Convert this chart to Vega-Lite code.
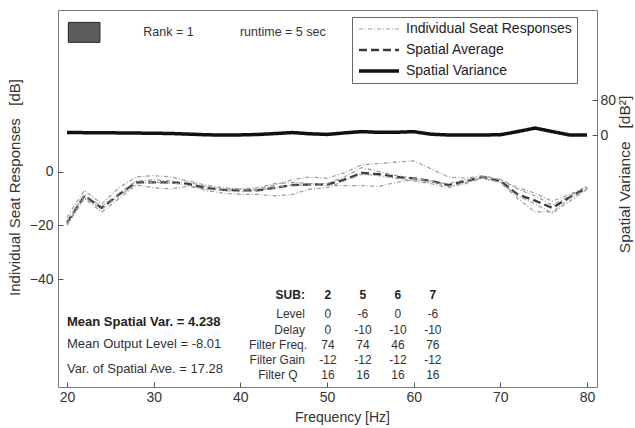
{
  "$schema": "https://vega.github.io/schema/vega-lite/v6.json",
  "width": 539,
  "height": 377,
  "autosize": {"type": "none"},
  "padding": {"left": 58, "top": 10, "right": 38, "bottom": 41},
  "background": "white",
  "config": {
    "view": {"stroke": "#7a7a7a", "strokeWidth": 1},
    "font": "Liberation Sans",
    "axis": {
      "grid": false, "domain": false,
      "labelFont": "Liberation Sans", "labelFontSize": 14, "labelColor": "#333333",
      "titleFont": "Liberation Sans", "titleFontSize": 13.5, "titleFontWeight": "normal", "titleColor": "#333333",
      "tickColor": "#555555", "tickSize": -5, "labelPadding": 10
    },
    "legend": {
      "orient": "none", "legendX": 294, "legendY": 7,
      "symbolType": "M-4,0H4", "symbolSize": 100, "symbolOffset": 15,
      "labelFont": "Liberation Sans", "labelFontSize": 14, "labelColor": "#222222", "labelLimit": 300,
      "labelOffset": 20, "padding": 5, "rowPadding": 7,
      "strokeColor": "#666666", "fillColor": "white"
    }
  },
  "datasets": {
    "curves": [
      {"freq":20,"level":-19,"series":"Spatial Average","sub":"avg"},
      {"freq":22,"level":-9,"series":"Spatial Average","sub":"avg"},
      {"freq":24,"level":-13.5,"series":"Spatial Average","sub":"avg"},
      {"freq":26,"level":-8.5,"series":"Spatial Average","sub":"avg"},
      {"freq":28,"level":-4,"series":"Spatial Average","sub":"avg"},
      {"freq":30,"level":-4,"series":"Spatial Average","sub":"avg"},
      {"freq":32,"level":-4,"series":"Spatial Average","sub":"avg"},
      {"freq":34,"level":-4.6,"series":"Spatial Average","sub":"avg"},
      {"freq":36,"level":-6,"series":"Spatial Average","sub":"avg"},
      {"freq":38,"level":-6.8,"series":"Spatial Average","sub":"avg"},
      {"freq":40,"level":-7,"series":"Spatial Average","sub":"avg"},
      {"freq":42,"level":-7,"series":"Spatial Average","sub":"avg"},
      {"freq":44,"level":-6,"series":"Spatial Average","sub":"avg"},
      {"freq":46,"level":-5,"series":"Spatial Average","sub":"avg"},
      {"freq":48,"level":-4.8,"series":"Spatial Average","sub":"avg"},
      {"freq":50,"level":-4.8,"series":"Spatial Average","sub":"avg"},
      {"freq":52,"level":-3,"series":"Spatial Average","sub":"avg"},
      {"freq":54,"level":-0.5,"series":"Spatial Average","sub":"avg"},
      {"freq":56,"level":-1,"series":"Spatial Average","sub":"avg"},
      {"freq":58,"level":-2,"series":"Spatial Average","sub":"avg"},
      {"freq":60,"level":-2.5,"series":"Spatial Average","sub":"avg"},
      {"freq":62,"level":-3.5,"series":"Spatial Average","sub":"avg"},
      {"freq":64,"level":-5,"series":"Spatial Average","sub":"avg"},
      {"freq":66,"level":-3.5,"series":"Spatial Average","sub":"avg"},
      {"freq":68,"level":-2,"series":"Spatial Average","sub":"avg"},
      {"freq":70,"level":-3.5,"series":"Spatial Average","sub":"avg"},
      {"freq":72,"level":-8.5,"series":"Spatial Average","sub":"avg"},
      {"freq":74,"level":-10.8,"series":"Spatial Average","sub":"avg"},
      {"freq":76,"level":-13.5,"series":"Spatial Average","sub":"avg"},
      {"freq":78,"level":-9.5,"series":"Spatial Average","sub":"avg"},
      {"freq":80,"level":-6,"series":"Spatial Average","sub":"avg"},

      {"freq":20,"level":-17,"series":"Individual Seat Responses","sub":"2"},
      {"freq":22,"level":-7,"series":"Individual Seat Responses","sub":"2"},
      {"freq":24,"level":-12,"series":"Individual Seat Responses","sub":"2"},
      {"freq":26,"level":-6,"series":"Individual Seat Responses","sub":"2"},
      {"freq":28,"level":-2,"series":"Individual Seat Responses","sub":"2"},
      {"freq":30,"level":-1.5,"series":"Individual Seat Responses","sub":"2"},
      {"freq":32,"level":-2,"series":"Individual Seat Responses","sub":"2"},
      {"freq":34,"level":-3.5,"series":"Individual Seat Responses","sub":"2"},
      {"freq":36,"level":-5,"series":"Individual Seat Responses","sub":"2"},
      {"freq":38,"level":-6,"series":"Individual Seat Responses","sub":"2"},
      {"freq":40,"level":-6.5,"series":"Individual Seat Responses","sub":"2"},
      {"freq":42,"level":-6.5,"series":"Individual Seat Responses","sub":"2"},
      {"freq":44,"level":-5,"series":"Individual Seat Responses","sub":"2"},
      {"freq":46,"level":-3,"series":"Individual Seat Responses","sub":"2"},
      {"freq":48,"level":-2,"series":"Individual Seat Responses","sub":"2"},
      {"freq":50,"level":-2.5,"series":"Individual Seat Responses","sub":"2"},
      {"freq":52,"level":-0.5,"series":"Individual Seat Responses","sub":"2"},
      {"freq":54,"level":2.5,"series":"Individual Seat Responses","sub":"2"},
      {"freq":56,"level":3,"series":"Individual Seat Responses","sub":"2"},
      {"freq":58,"level":3.5,"series":"Individual Seat Responses","sub":"2"},
      {"freq":60,"level":4,"series":"Individual Seat Responses","sub":"2"},
      {"freq":62,"level":1,"series":"Individual Seat Responses","sub":"2"},
      {"freq":64,"level":-2,"series":"Individual Seat Responses","sub":"2"},
      {"freq":66,"level":-2.5,"series":"Individual Seat Responses","sub":"2"},
      {"freq":68,"level":-1.5,"series":"Individual Seat Responses","sub":"2"},
      {"freq":70,"level":-3,"series":"Individual Seat Responses","sub":"2"},
      {"freq":72,"level":-6,"series":"Individual Seat Responses","sub":"2"},
      {"freq":74,"level":-8,"series":"Individual Seat Responses","sub":"2"},
      {"freq":76,"level":-11,"series":"Individual Seat Responses","sub":"2"},
      {"freq":78,"level":-8.5,"series":"Individual Seat Responses","sub":"2"},
      {"freq":80,"level":-5.5,"series":"Individual Seat Responses","sub":"2"},

      {"freq":20,"level":-20,"series":"Individual Seat Responses","sub":"5"},
      {"freq":22,"level":-10,"series":"Individual Seat Responses","sub":"5"},
      {"freq":24,"level":-15,"series":"Individual Seat Responses","sub":"5"},
      {"freq":26,"level":-10,"series":"Individual Seat Responses","sub":"5"},
      {"freq":28,"level":-5,"series":"Individual Seat Responses","sub":"5"},
      {"freq":30,"level":-6,"series":"Individual Seat Responses","sub":"5"},
      {"freq":32,"level":-6.4,"series":"Individual Seat Responses","sub":"5"},
      {"freq":34,"level":-5.5,"series":"Individual Seat Responses","sub":"5"},
      {"freq":36,"level":-6.5,"series":"Individual Seat Responses","sub":"5"},
      {"freq":38,"level":-7,"series":"Individual Seat Responses","sub":"5"},
      {"freq":40,"level":-7.5,"series":"Individual Seat Responses","sub":"5"},
      {"freq":42,"level":-7,"series":"Individual Seat Responses","sub":"5"},
      {"freq":44,"level":-6,"series":"Individual Seat Responses","sub":"5"},
      {"freq":46,"level":-5,"series":"Individual Seat Responses","sub":"5"},
      {"freq":48,"level":-5,"series":"Individual Seat Responses","sub":"5"},
      {"freq":50,"level":-5.2,"series":"Individual Seat Responses","sub":"5"},
      {"freq":52,"level":-5.2,"series":"Individual Seat Responses","sub":"5"},
      {"freq":54,"level":-5.2,"series":"Individual Seat Responses","sub":"5"},
      {"freq":56,"level":-5.5,"series":"Individual Seat Responses","sub":"5"},
      {"freq":58,"level":-4,"series":"Individual Seat Responses","sub":"5"},
      {"freq":60,"level":-3,"series":"Individual Seat Responses","sub":"5"},
      {"freq":62,"level":-4,"series":"Individual Seat Responses","sub":"5"},
      {"freq":64,"level":-4.5,"series":"Individual Seat Responses","sub":"5"},
      {"freq":66,"level":-3,"series":"Individual Seat Responses","sub":"5"},
      {"freq":68,"level":-2.5,"series":"Individual Seat Responses","sub":"5"},
      {"freq":70,"level":-4,"series":"Individual Seat Responses","sub":"5"},
      {"freq":72,"level":-10,"series":"Individual Seat Responses","sub":"5"},
      {"freq":74,"level":-15,"series":"Individual Seat Responses","sub":"5"},
      {"freq":76,"level":-15,"series":"Individual Seat Responses","sub":"5"},
      {"freq":78,"level":-10,"series":"Individual Seat Responses","sub":"5"},
      {"freq":80,"level":-6.5,"series":"Individual Seat Responses","sub":"5"},

      {"freq":20,"level":-19.5,"series":"Individual Seat Responses","sub":"6"},
      {"freq":22,"level":-9.5,"series":"Individual Seat Responses","sub":"6"},
      {"freq":24,"level":-14,"series":"Individual Seat Responses","sub":"6"},
      {"freq":26,"level":-9,"series":"Individual Seat Responses","sub":"6"},
      {"freq":28,"level":-4.5,"series":"Individual Seat Responses","sub":"6"},
      {"freq":30,"level":-4,"series":"Individual Seat Responses","sub":"6"},
      {"freq":32,"level":-4.2,"series":"Individual Seat Responses","sub":"6"},
      {"freq":34,"level":-5,"series":"Individual Seat Responses","sub":"6"},
      {"freq":36,"level":-7,"series":"Individual Seat Responses","sub":"6"},
      {"freq":38,"level":-8,"series":"Individual Seat Responses","sub":"6"},
      {"freq":40,"level":-8.5,"series":"Individual Seat Responses","sub":"6"},
      {"freq":42,"level":-8.5,"series":"Individual Seat Responses","sub":"6"},
      {"freq":44,"level":-9,"series":"Individual Seat Responses","sub":"6"},
      {"freq":46,"level":-8.5,"series":"Individual Seat Responses","sub":"6"},
      {"freq":48,"level":-6.5,"series":"Individual Seat Responses","sub":"6"},
      {"freq":50,"level":-6,"series":"Individual Seat Responses","sub":"6"},
      {"freq":52,"level":-3.5,"series":"Individual Seat Responses","sub":"6"},
      {"freq":54,"level":-1,"series":"Individual Seat Responses","sub":"6"},
      {"freq":56,"level":-1.5,"series":"Individual Seat Responses","sub":"6"},
      {"freq":58,"level":-2.5,"series":"Individual Seat Responses","sub":"6"},
      {"freq":60,"level":-3.5,"series":"Individual Seat Responses","sub":"6"},
      {"freq":62,"level":-4.5,"series":"Individual Seat Responses","sub":"6"},
      {"freq":64,"level":-6,"series":"Individual Seat Responses","sub":"6"},
      {"freq":66,"level":-4,"series":"Individual Seat Responses","sub":"6"},
      {"freq":68,"level":-2.5,"series":"Individual Seat Responses","sub":"6"},
      {"freq":70,"level":-4,"series":"Individual Seat Responses","sub":"6"},
      {"freq":72,"level":-9,"series":"Individual Seat Responses","sub":"6"},
      {"freq":74,"level":-12,"series":"Individual Seat Responses","sub":"6"},
      {"freq":76,"level":-15.5,"series":"Individual Seat Responses","sub":"6"},
      {"freq":78,"level":-11,"series":"Individual Seat Responses","sub":"6"},
      {"freq":80,"level":-6.5,"series":"Individual Seat Responses","sub":"6"},

      {"freq":20,"level":-18.5,"series":"Individual Seat Responses","sub":"7"},
      {"freq":22,"level":-8.5,"series":"Individual Seat Responses","sub":"7"},
      {"freq":24,"level":-13,"series":"Individual Seat Responses","sub":"7"},
      {"freq":26,"level":-8,"series":"Individual Seat Responses","sub":"7"},
      {"freq":28,"level":-3.5,"series":"Individual Seat Responses","sub":"7"},
      {"freq":30,"level":-3,"series":"Individual Seat Responses","sub":"7"},
      {"freq":32,"level":-3.5,"series":"Individual Seat Responses","sub":"7"},
      {"freq":34,"level":-4,"series":"Individual Seat Responses","sub":"7"},
      {"freq":36,"level":-5.5,"series":"Individual Seat Responses","sub":"7"},
      {"freq":38,"level":-6.5,"series":"Individual Seat Responses","sub":"7"},
      {"freq":40,"level":-6.5,"series":"Individual Seat Responses","sub":"7"},
      {"freq":42,"level":-6,"series":"Individual Seat Responses","sub":"7"},
      {"freq":44,"level":-4.5,"series":"Individual Seat Responses","sub":"7"},
      {"freq":46,"level":-4,"series":"Individual Seat Responses","sub":"7"},
      {"freq":48,"level":-4.5,"series":"Individual Seat Responses","sub":"7"},
      {"freq":50,"level":-4.5,"series":"Individual Seat Responses","sub":"7"},
      {"freq":52,"level":-2,"series":"Individual Seat Responses","sub":"7"},
      {"freq":54,"level":1.5,"series":"Individual Seat Responses","sub":"7"},
      {"freq":56,"level":0,"series":"Individual Seat Responses","sub":"7"},
      {"freq":58,"level":-1.5,"series":"Individual Seat Responses","sub":"7"},
      {"freq":60,"level":-2.5,"series":"Individual Seat Responses","sub":"7"},
      {"freq":62,"level":-3.5,"series":"Individual Seat Responses","sub":"7"},
      {"freq":64,"level":-5.5,"series":"Individual Seat Responses","sub":"7"},
      {"freq":66,"level":-4.5,"series":"Individual Seat Responses","sub":"7"},
      {"freq":68,"level":-2,"series":"Individual Seat Responses","sub":"7"},
      {"freq":70,"level":-3,"series":"Individual Seat Responses","sub":"7"},
      {"freq":72,"level":-6.5,"series":"Individual Seat Responses","sub":"7"},
      {"freq":74,"level":-9,"series":"Individual Seat Responses","sub":"7"},
      {"freq":76,"level":-12.5,"series":"Individual Seat Responses","sub":"7"},
      {"freq":78,"level":-9,"series":"Individual Seat Responses","sub":"7"},
      {"freq":80,"level":-5.5,"series":"Individual Seat Responses","sub":"7"}
    ],
    "variance": [
      {"freq":20,"variance":5.8,"series":"Spatial Variance"},
      {"freq":22,"variance":5.6,"series":"Spatial Variance"},
      {"freq":24,"variance":5.3,"series":"Spatial Variance"},
      {"freq":26,"variance":5.0,"series":"Spatial Variance"},
      {"freq":28,"variance":4.6,"series":"Spatial Variance"},
      {"freq":30,"variance":4.2,"series":"Spatial Variance"},
      {"freq":32,"variance":3.6,"series":"Spatial Variance"},
      {"freq":34,"variance":2.2,"series":"Spatial Variance"},
      {"freq":36,"variance":0.7,"series":"Spatial Variance"},
      {"freq":38,"variance":0,"series":"Spatial Variance"},
      {"freq":40,"variance":0.4,"series":"Spatial Variance"},
      {"freq":42,"variance":1.3,"series":"Spatial Variance"},
      {"freq":44,"variance":3.5,"series":"Spatial Variance"},
      {"freq":46,"variance":5.8,"series":"Spatial Variance"},
      {"freq":48,"variance":3,"series":"Spatial Variance"},
      {"freq":50,"variance":1.5,"series":"Spatial Variance"},
      {"freq":52,"variance":5,"series":"Spatial Variance"},
      {"freq":54,"variance":8,"series":"Spatial Variance"},
      {"freq":56,"variance":6.2,"series":"Spatial Variance"},
      {"freq":58,"variance":6.5,"series":"Spatial Variance"},
      {"freq":60,"variance":7.8,"series":"Spatial Variance"},
      {"freq":62,"variance":2,"series":"Spatial Variance"},
      {"freq":64,"variance":0.2,"series":"Spatial Variance"},
      {"freq":66,"variance":0.2,"series":"Spatial Variance"},
      {"freq":68,"variance":0.2,"series":"Spatial Variance"},
      {"freq":70,"variance":0.8,"series":"Spatial Variance"},
      {"freq":72,"variance":8,"series":"Spatial Variance"},
      {"freq":74,"variance":16,"series":"Spatial Variance"},
      {"freq":76,"variance":8,"series":"Spatial Variance"},
      {"freq":78,"variance":0.2,"series":"Spatial Variance"},
      {"freq":80,"variance":0.2,"series":"Spatial Variance"}
    ],
    "notes": [
      {"group":"top","freq":28.8,"level":51.7,"text":"Rank = 1"},
      {"group":"top","freq":39.95,"level":51.7,"text":"runtime = 5 sec"},
      {"group":"statsBold","freq":20,"level":-56,"text":"Mean Spatial Var. = 4.238"},
      {"group":"stats","freq":20,"level":-64.2,"text":"Mean Output Level = -8.01"},
      {"group":"stats","freq":20,"level":-73.3,"text":"Var. of Spatial Ave. = 17.28"},
      {"group":"rowBold","freq":47.45,"level":-46,"text":"SUB:"},
      {"group":"row","freq":47.45,"level":-52.8,"text":"Level"},
      {"group":"row","freq":47.45,"level":-59,"text":"Delay"},
      {"group":"row","freq":47.7,"level":-64.35,"text":"Filter Freq."},
      {"group":"row","freq":47.45,"level":-69.9,"text":"Filter Gain"},
      {"group":"row","freq":46.6,"level":-75.5,"text":"Filter  Q"},
      {"group":"cellBold","freq":50.1,"level":-46,"text":"2"},
      {"group":"cellBold","freq":54.14,"level":-46,"text":"5"},
      {"group":"cellBold","freq":58.18,"level":-46,"text":"6"},
      {"group":"cellBold","freq":62.21,"level":-46,"text":"7"},
      {"group":"cell","freq":50.1,"level":-52.8,"text":"0"},
      {"group":"cell","freq":54.14,"level":-52.8,"text":"-6"},
      {"group":"cell","freq":58.18,"level":-52.8,"text":"0"},
      {"group":"cell","freq":62.21,"level":-52.8,"text":"-6"},
      {"group":"cell","freq":50.1,"level":-59,"text":"0"},
      {"group":"cell","freq":54.14,"level":-59,"text":"-10"},
      {"group":"cell","freq":58.18,"level":-59,"text":"-10"},
      {"group":"cell","freq":62.21,"level":-59,"text":"-10"},
      {"group":"cell","freq":50.1,"level":-64.35,"text":"74"},
      {"group":"cell","freq":54.14,"level":-64.35,"text":"74"},
      {"group":"cell","freq":58.18,"level":-64.35,"text":"46"},
      {"group":"cell","freq":62.21,"level":-64.35,"text":"76"},
      {"group":"cell","freq":50.1,"level":-69.9,"text":"-12"},
      {"group":"cell","freq":54.14,"level":-69.9,"text":"-12"},
      {"group":"cell","freq":58.18,"level":-69.9,"text":"-12"},
      {"group":"cell","freq":62.21,"level":-69.9,"text":"-12"},
      {"group":"cell","freq":50.1,"level":-75.5,"text":"16"},
      {"group":"cell","freq":54.14,"level":-75.5,"text":"16"},
      {"group":"cell","freq":58.18,"level":-75.5,"text":"16"},
      {"group":"cell","freq":62.21,"level":-75.5,"text":"16"}
    ],
    "icon": [
      {"f1":20.15,"f2":23.8,"v1":55.4,"v2":48.0}
    ]
  },
  "layer": [
    {
      "layer": [
        {
          "data": {"name": "curves"},
          "mark": {"type": "line", "strokeCap": "butt"},
          "encoding": {
            "x": {"field": "freq", "type": "quantitative",
                  "scale": {"domain": [18.96, 81.15], "nice": false, "zero": false},
                  "axis": {"values": [20,30,40,50,60,70,80], "title": "Frequency [Hz]", "labelPadding": 8,
                           "titleBaseline": "alphabetic", "titleX": 284, "titleY": 34, "titleFontSize": 14}},
            "y": {"field": "level", "type": "quantitative",
                  "scale": {"domain": [-80, 60], "nice": false, "zero": false},
                  "axis": {"values": [-40,-20,0], "title": "Individual Seat Responses\u00a0\u00a0\u00a0[dB]",
                           "titleX": -36, "titleY": 177, "titleFontSize": 15}},
            "detail": {"field": "sub", "type": "nominal"},
            "color": {"field": "series", "type": "nominal",
                      "scale": {"domain": ["Individual Seat Responses","Spatial Average","Spatial Variance"],
                                "range": ["#9a9a9a","#3a3a3a","#111111"]},
                      "legend": {"title": null}},
            "strokeDash": {"field": "series", "type": "nominal",
                      "scale": {"domain": ["Individual Seat Responses","Spatial Average","Spatial Variance"],
                                "range": [[4,2,1,2],[8,4],[1,0]]},
                      "legend": {"title": null}},
            "strokeWidth": {"field": "series", "type": "ordinal",
                      "scale": {"domain": ["Individual Seat Responses","Spatial Average","Spatial Variance"],
                                "range": [1.2,3.5,5]},
                      "legend": {"title": null}}
          }
        },
        {
          "data": {"name": "icon"},
          "mark": {"type": "rect", "fill": "#5c5c5c", "stroke": "#222222", "strokeWidth": 1},
          "encoding": {
            "x": {"field": "f1", "type": "quantitative"},
            "x2": {"field": "f2"},
            "y": {"field": "v1", "type": "quantitative"},
            "y2": {"field": "v2"}
          }
        },
        {
          "data": {"name": "notes"},
          "transform": [{"filter": "datum.group === 'top'"}],
          "mark": {"type": "text", "align": "left", "baseline": "middle", "fontSize": 12.5, "font": "Liberation Sans", "color": "#333333"},
          "encoding": {
            "x": {"field": "freq", "type": "quantitative"},
            "y": {"field": "level", "type": "quantitative"},
            "text": {"field": "text"}
          }
        },
        {
          "data": {"name": "notes"},
          "transform": [{"filter": "datum.group === 'statsBold'"}],
          "mark": {"type": "text", "align": "left", "baseline": "middle", "fontSize": 13, "fontWeight": "bold", "font": "Liberation Sans", "color": "#222222"},
          "encoding": {
            "x": {"field": "freq", "type": "quantitative"},
            "y": {"field": "level", "type": "quantitative"},
            "text": {"field": "text"}
          }
        },
        {
          "data": {"name": "notes"},
          "transform": [{"filter": "datum.group === 'stats'"}],
          "mark": {"type": "text", "align": "left", "baseline": "middle", "fontSize": 13, "font": "Liberation Sans", "color": "#333333"},
          "encoding": {
            "x": {"field": "freq", "type": "quantitative"},
            "y": {"field": "level", "type": "quantitative"},
            "text": {"field": "text"}
          }
        },
        {
          "data": {"name": "notes"},
          "transform": [{"filter": "datum.group === 'rowBold'"}],
          "mark": {"type": "text", "align": "right", "baseline": "middle", "fontSize": 12, "fontWeight": "bold", "font": "Liberation Sans", "color": "#222222"},
          "encoding": {
            "x": {"field": "freq", "type": "quantitative"},
            "y": {"field": "level", "type": "quantitative"},
            "text": {"field": "text"}
          }
        },
        {
          "data": {"name": "notes"},
          "transform": [{"filter": "datum.group === 'row'"}],
          "mark": {"type": "text", "align": "right", "baseline": "middle", "fontSize": 12, "font": "Liberation Sans", "color": "#333333"},
          "encoding": {
            "x": {"field": "freq", "type": "quantitative"},
            "y": {"field": "level", "type": "quantitative"},
            "text": {"field": "text"}
          }
        },
        {
          "data": {"name": "notes"},
          "transform": [{"filter": "datum.group === 'cellBold'"}],
          "mark": {"type": "text", "align": "center", "baseline": "middle", "fontSize": 12, "fontWeight": "bold", "font": "Liberation Sans", "color": "#222222"},
          "encoding": {
            "x": {"field": "freq", "type": "quantitative"},
            "y": {"field": "level", "type": "quantitative"},
            "text": {"field": "text"}
          }
        },
        {
          "data": {"name": "notes"},
          "transform": [{"filter": "datum.group === 'cell'"}],
          "mark": {"type": "text", "align": "center", "baseline": "middle", "fontSize": 12, "font": "Liberation Sans", "color": "#333333"},
          "encoding": {
            "x": {"field": "freq", "type": "quantitative"},
            "y": {"field": "level", "type": "quantitative"},
            "text": {"field": "text"}
          }
        }
      ]
    },
    {
      "data": {"name": "variance"},
      "mark": {"type": "line", "strokeCap": "butt"},
      "encoding": {
        "x": {"field": "freq", "type": "quantitative"},
        "y": {"field": "variance", "type": "quantitative",
              "scale": {"domain": [-576, 286], "nice": false, "zero": false},
              "axis": {"orient": "right", "values": [0, 80], "title": "Spatial Variance\u00a0\u00a0\u00a0[dB²]",
                       "labelPadding": 8, "titleAngle": 270, "titleBaseline": "bottom", "titleX": 35, "titleY": 164, "titleFontSize": 15.5}},
        "color": {"field": "series", "type": "nominal",
                  "scale": {"domain": ["Individual Seat Responses","Spatial Average","Spatial Variance"],
                            "range": ["#9a9a9a","#3a3a3a","#111111"]},
                  "legend": {"title": null}},
        "strokeDash": {"field": "series", "type": "nominal",
                  "scale": {"domain": ["Individual Seat Responses","Spatial Average","Spatial Variance"],
                            "range": [[4,2,1,2],[8,4],[1,0]]},
                  "legend": {"title": null}},
        "strokeWidth": {"field": "series", "type": "ordinal",
                  "scale": {"domain": ["Individual Seat Responses","Spatial Average","Spatial Variance"],
                            "range": [1.2,3.5,5]},
                  "legend": {"title": null}}
      }
    }
  ],
  "resolve": {"scale": {"y": "independent"}}
}
